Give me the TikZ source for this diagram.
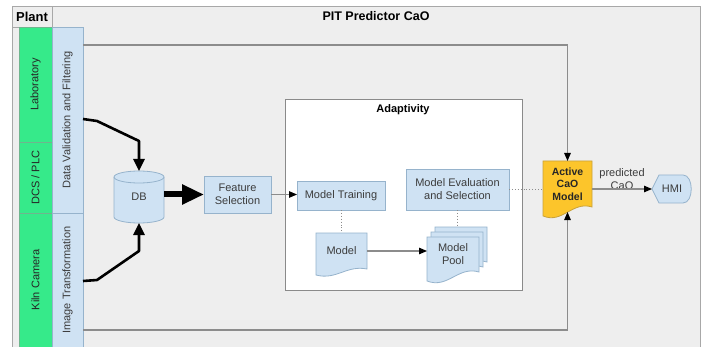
\documentclass[tikz,border=0pt]{standalone}
\usepackage{fontspec}
\setmainfont{Liberation Sans}
\usepackage{graphicx}
\usetikzlibrary{arrows.meta,calc}
\definecolor{bggray}{HTML}{EEEEEE}
\definecolor{framegray}{HTML}{A8A8A8}
\definecolor{lanegreen}{HTML}{36EA8A}
\definecolor{lanebd}{HTML}{6FB58E}
\definecolor{bluefill}{HTML}{CFE2F3}
\definecolor{bluebd}{HTML}{96B3CC}
\definecolor{gold}{HTML}{FCC52B}
\definecolor{goldbd}{HTML}{C9A23A}
\definecolor{conngray}{HTML}{8C8C8C}
\definecolor{txtgray}{HTML}{3C3C3C}
\definecolor{adaptbd}{HTML}{8A8A8A}
\pgfdeclarelayer{bg}
\pgfdeclarelayer{shp}
\pgfsetlayers{bg,shp,main}
\newcommand\fntbox{\fontsize{11}{13}\selectfont}
\newcommand\fntboxb{\fontsize{11}{13}\selectfont\bfseries}
\newcommand\fntact{\fontsize{10.5}{12.5}\selectfont\bfseries}
\newcommand\fnthead{\fontsize{13}{15}\selectfont\bfseries}
\newcommand\fnttitle{\fontsize{12.5}{15}\selectfont\bfseries}
\newcommand\docshp[5]{%
  \filldraw[fill=#3,draw=#4,line width=0.8pt]
    ($(#1.north west)+#5$) -- ($(#1.north east)+#5$) -- ($(#1.south east)+#5$)
    .. controls ($(#1.south east)!0.4!(#1.south west)+(0,-0.7*#2)+#5$)
    and ($(#1.south east)!0.6!(#1.south west)+(0,1.9*#2)+#5$)
    .. ($(#1.south west)+(0,#2)+#5$) -- cycle;}
\begin{document}
\begin{tikzpicture}[x=1pt,y=-1pt,
  lane/.style={draw=lanebd, line width=0.6pt, fill=lanegreen, inner sep=0pt, outer sep=0pt, minimum width=33pt, font=\fntbox, text=black!85},
  lanebl/.style={draw=bluebd, line width=0.6pt, fill=bluefill, inner sep=0pt, outer sep=0pt, minimum width=31pt, font=\fntbox, text=txtgray},
  proc/.style={draw=bluebd, line width=0.8pt, fill=bluefill, inner sep=0pt, outer sep=0pt, align=center, font=\fntbox, text=txtgray},
  doctext/.style={inner sep=0pt, outer sep=0pt, align=center, font=\fntbox, text=txtgray},
  conn/.style={draw=conngray, line width=1.2pt, -{Triangle[length=8pt,width=6.5pt,color=black]}},
  dotconn/.style={draw=conngray, line width=0.9pt, dotted},
  feed/.style={draw=black, line width=2.6pt, line join=round, -{Triangle[length=12pt,width=11pt]}},
  fat/.style={draw=black, line width=6pt, -{Triangle[length=22pt,width=19pt]}},
]
\useasboundingbox (0,0) rectangle (708,347);
\begin{pgfonlayer}{bg}
  \fill[bggray] (12,6) rectangle (700,347.5);
  \draw[framegray, line width=0.8pt] (12,347.5) -- (12,6) -- (700,6) -- (700,347.5);
  \node[draw=adaptbd, line width=1pt, fill=white, minimum width=237pt, minimum height=190pt, inner sep=0pt] (adapt) at (403.5,195) {};
\end{pgfonlayer}

\node[draw=framegray, line width=0.8pt, fill=bggray, minimum width=40pt, minimum height=21pt, inner sep=0pt, font=\fnthead] (plant) at (32,16.5) {Plant};
\node[font=\fnttitle] (pit) at (376,16.5) {PIT Predictor CaO};

\node[lane, minimum height=115pt] (lab) at (35.5,84.5) {\rotatebox{90}{Laboratory}};
\node[lane, minimum height=71pt] (dcs) at (35.5,177.5) {\rotatebox{90}{DCS / PLC}};
\node[lane, minimum height=134pt] (kiln) at (35.5,280) {\rotatebox{90}{Kiln Camera}};
\node[lanebl, minimum height=186pt] (dvf) at (67.5,120) {\rotatebox{90}{Data Validation and Filtering}};
\node[lanebl, minimum height=134pt] (imt) at (67.5,280) {\rotatebox{90}{Image Transformation}};

\node[font=\fntboxb] (adlbl) at (403,110) {Adaptivity};

\node[proc, minimum width=67pt, minimum height=37pt] (fs) at (237.5,194.5) {Feature\\Selection};
\node[proc, minimum width=88pt, minimum height=29pt] (mt) at (341,195.5) {Model Training};
\node[proc, minimum width=103pt, minimum height=41pt] (me) at (457.5,189.5) {Model Evaluation\\and Selection};

\node[doctext, minimum width=51pt, minimum height=36pt] (model) at (341.5,251) {Model};
\node[doctext, minimum width=52pt, minimum height=35pt] (pool) at (453,254.5) {Model\\Pool};
\node[doctext, minimum width=49pt, minimum height=46pt, font=\fntact, text=black!85] (act) at (567.5,184) {Active\\CaO\\Model};
\node[doctext, minimum width=40pt, minimum height=28pt] (hmi) at (672,189) {HMI};
\node[doctext, minimum width=50pt, minimum height=52pt] (db) at (139,197) {DB};
\node[doctext] (pred) at (622,179.5) {predicted\\CaO};

\begin{pgfonlayer}{shp}
  \docshp{model}{6}{bluefill}{bluebd}{(0,0)}
  \docshp{pool}{9}{bluefill}{bluebd}{(8,-10)}
  \docshp{pool}{9}{bluefill}{bluebd}{(4,-5)}
  \docshp{pool}{9}{bluefill}{bluebd}{(0,0)}
  \docshp{act}{9}{gold}{goldbd}{(0,0)}
  \filldraw[fill=bluefill, draw=bluebd, line width=0.8pt]
    (hmi.west) -- ($(hmi.north west)+(7,0)$) -- ($(hmi.north east)+(-9,0)$)
    .. controls ($(hmi.north east)+(2,0)$) and ($(hmi.south east)+(2,0)$) .. ($(hmi.south east)+(-9,0)$)
    -- ($(hmi.south west)+(7,0)$) -- cycle;
  \filldraw[fill=bluefill, draw=bluebd, line width=0.8pt]
    ($(db.north west)+(0,6)$) -- ($(db.south west)+(0,-6)$)
    arc[start angle=180, end angle=360, x radius=25pt, y radius=6pt]
    -- ($(db.north east)+(0,6)$)
    arc[start angle=0, end angle=180, x radius=25pt, y radius=6pt] -- cycle;
  \draw[bluebd, line width=0.8pt] ($(db.north west)+(0,6)$)
    arc[start angle=180, end angle=360, x radius=25pt, y radius=6pt];
\end{pgfonlayer}

\coordinate (ytop) at (0,45);
\coordinate (ybot) at (0,330);
\coordinate (ylab) at (0,119);
\coordinate (ykiln) at (0,281);
\coordinate (actb) at ($(act.south)+(0,5)$);
\coordinate (ptop) at ($(pool.north)+(0,-10)$);

\draw[conn] (dvf.east |- ytop) -| (act.north);
\draw[conn] (imt.east |- ybot) -| (actb);
\draw[feed] (dvf.east |- ylab) -- ++(14,2) -- ($(db.north)+(0,-30)$) -- (db.north);
\draw[feed] (imt.east |- ykiln) -- ++(14,-1) -- ($(db.south)+(0,28)$) -- (db.south);
\draw[fat] (db.east |- fs.west) -- (fs.west);
\draw[conn] (fs.east) -- (fs.east -| mt.west);
\draw[dotconn] (mt.south) -- (mt.south |- model.north);
\draw[dotconn] (me.south) -- (me.south |- ptop);
\draw[conn] (model.east) -- (model.east -| pool.west);
\draw[dotconn] (me.east) -- (me.east -| act.west);
\draw[conn] (act.east |- hmi.west) -- (hmi.west);
\end{tikzpicture}
\end{document}
